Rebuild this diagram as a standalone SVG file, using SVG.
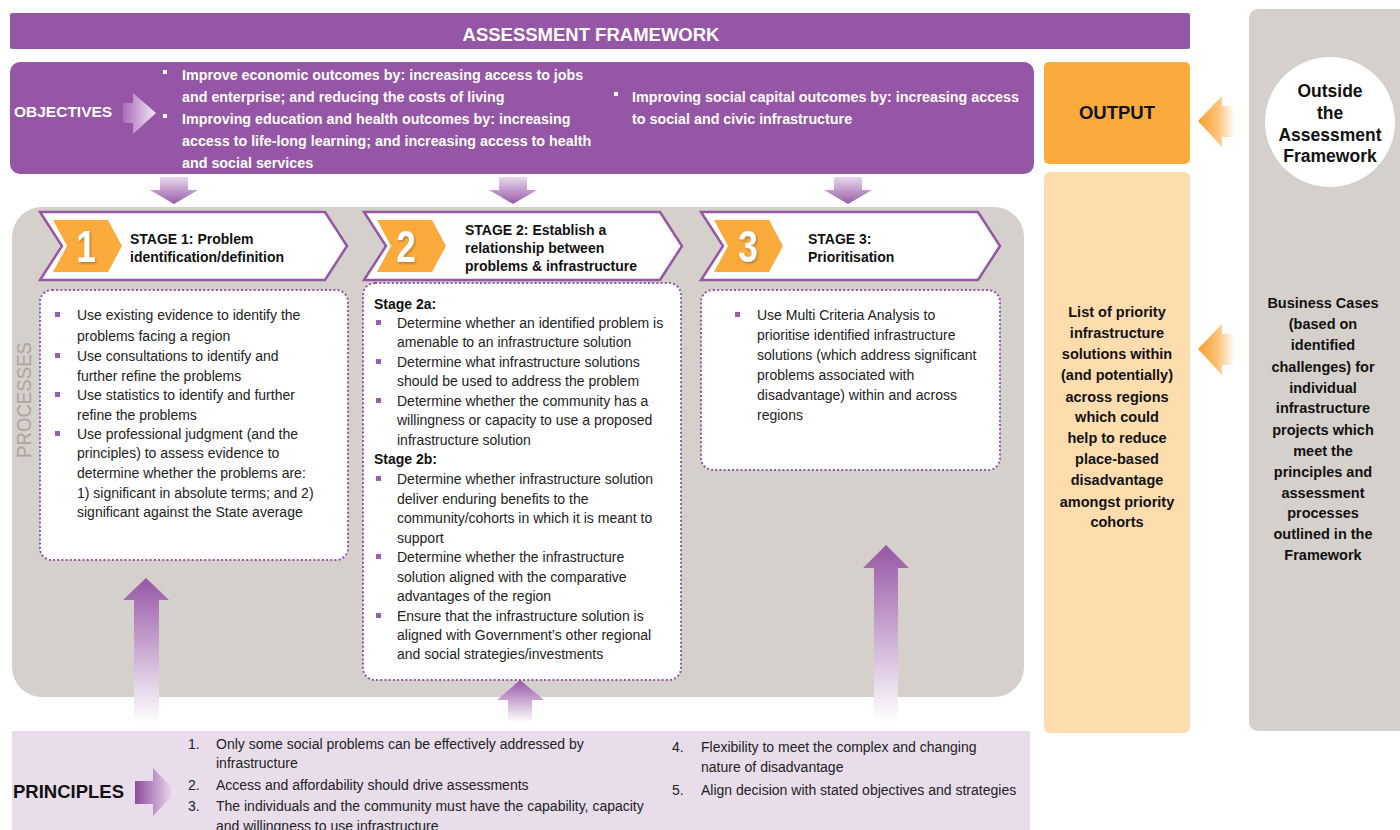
<svg xmlns="http://www.w3.org/2000/svg" width="1400" height="830" viewBox="0 0 1400 830">
<style>
text{font-family:"Liberation Sans",Arial,sans-serif}
.hdr{font-size:18.5px;font-weight:bold;fill:#fff}
.obj{font-size:14.3px;font-weight:bold;fill:#fff}
.stg{font-size:14px;font-weight:bold;fill:#111}
.num{font-size:44px;font-weight:bold;fill:#fff;text-anchor:middle}
.body{font-size:14px;fill:#222}
.bodyb{font-size:14px;font-weight:bold;fill:#111}
.col{font-size:14.5px;font-weight:bold;fill:#111;text-anchor:middle}
.big{font-size:17.5px;font-weight:bold;fill:#111;text-anchor:middle}
.purple{fill:#9556a5}
.grey{fill:#d5d0cc}
.chev{fill:#fff;stroke:#9556a5;stroke-width:2.5;stroke-linejoin:miter}
.orange{fill:#fbab3c}
.box{fill:#fff;stroke:#9556a5;stroke-width:2;stroke-dasharray:2 2.2}
.blt{fill:#9a5eab}
.wblt{fill:#fff}
</style>
<defs>
<linearGradient id="gDown" x1="0" y1="0" x2="0" y2="1">
<stop offset="0" stop-color="#e8d8ec"/><stop offset="1" stop-color="#9a5aaa"/>
</linearGradient>
<linearGradient id="gUp" x1="0" y1="0" x2="0" y2="1">
<stop offset="0" stop-color="#9656a6"/><stop offset="1" stop-color="#ffffff"/>
</linearGradient>
<linearGradient id="gLeft" x1="0" y1="0" x2="1" y2="0">
<stop offset="0" stop-color="#f79e2c"/><stop offset="0.55" stop-color="#fbc47a"/><stop offset="1" stop-color="#ffffff" stop-opacity="0.9"/>
</linearGradient>
<linearGradient id="gObj" x1="0" y1="0" x2="1" y2="0">
<stop offset="0" stop-color="#a96bb8"/><stop offset="1" stop-color="#f3e9f5"/>
</linearGradient>
<linearGradient id="gPrin" x1="0" y1="0" x2="1" y2="0">
<stop offset="0" stop-color="#8f4c9f"/><stop offset="1" stop-color="#f1e7f3"/>
</linearGradient>
<filter id="sh" x="-30%" y="-30%" width="160%" height="160%">
<feDropShadow dx="1.5" dy="1.5" stdDeviation="1" flood-color="#7a5a30" flood-opacity="0.6"/>
</filter>
</defs>

<g id="outside-panel">
<rect class="grey" x="1249" y="9" width="170" height="722" rx="9"/>
<g id="outside-circle">
<circle cx="1330" cy="122" r="65" fill="#fff"/>
<text class="big" x="1330" y="97">Outside</text>
<text class="big" x="1330" y="119">the</text>
<text class="big" x="1330" y="141">Assessment</text>
<text class="big" x="1330" y="162">Framework</text>
</g>
<g id="business-cases">
<text class="col" x="1323" y="308">Business Cases</text>
<text class="col" x="1323" y="329">(based on</text>
<text class="col" x="1323" y="350">identified</text>
<text class="col" x="1323" y="372">challenges) for</text>
<text class="col" x="1323" y="393">individual</text>
<text class="col" x="1323" y="413">infrastructure</text>
<text class="col" x="1323" y="435">projects which</text>
<text class="col" x="1323" y="456">meet the</text>
<text class="col" x="1323" y="477">principles and</text>
<text class="col" x="1323" y="498">assessment</text>
<text class="col" x="1323" y="518">processes</text>
<text class="col" x="1323" y="539">outlined in the</text>
<text class="col" x="1323" y="560">Framework</text>
</g>
</g>

<g id="header">
<rect class="purple" x="10" y="13" width="1180" height="36" rx="2"/>
<text class="hdr" x="591" y="41" text-anchor="middle">ASSESSMENT FRAMEWORK</text>
</g>

<g id="objectives">
<rect class="purple" x="10" y="62" width="1024" height="112" rx="10"/>
<text x="14" y="117" style="font-size:15.5px;font-weight:bold;fill:#fff">OBJECTIVES</text>
<rect class="wblt" x="163" y="70" width="4" height="4"/>
<text class="obj" x="182" y="80">Improve economic outcomes by: increasing access to jobs</text>
<text class="obj" x="182" y="102">and enterprise; and reducing the costs of living</text>
<rect class="wblt" x="163" y="114" width="4" height="4"/>
<text class="obj" x="182" y="124">Improving education and health outcomes by: increasing</text>
<text class="obj" x="182" y="146">access to life-long learning; and increasing access to health</text>
<text class="obj" x="182" y="168">and social services</text>
<rect class="wblt" x="614" y="92" width="4" height="4"/>
<text class="obj" x="632" y="102">Improving social capital outcomes by: increasing access</text>
<text class="obj" x="632" y="124">to social and civic infrastructure</text>
</g>

<g id="output">
<rect class="orange" x="1044" y="62" width="146" height="102" rx="5"/>
<text x="1117" y="119" text-anchor="middle" style="font-size:18.5px;font-weight:bold;fill:#111">OUTPUT</text>
</g>

<g id="output-list">
<rect x="1044" y="172" width="146" height="561" rx="6" fill="#fddcae"/>
<text class="col" x="1117" y="317">List of priority</text>
<text class="col" x="1117" y="338">infrastructure</text>
<text class="col" x="1117" y="359">solutions within</text>
<text class="col" x="1117" y="380">(and potentially)</text>
<text class="col" x="1117" y="402">across regions</text>
<text class="col" x="1117" y="422">which could</text>
<text class="col" x="1117" y="443">help to reduce</text>
<text class="col" x="1117" y="464">place-based</text>
<text class="col" x="1117" y="485">disadvantage</text>
<text class="col" x="1117" y="507">amongst priority</text>
<text class="col" x="1117" y="527">cohorts</text>
</g>

<g id="processes">
<rect class="grey" x="12" y="207" width="1012" height="490" rx="30"/>
<text transform="translate(31,400) rotate(-90)" text-anchor="middle" textLength="116" lengthAdjust="spacingAndGlyphs" style="font-size:21px;fill:#aba49f">PROCESSES</text>
</g>

<g id="principles">
<rect x="12" y="731" width="1018" height="110" fill="#e9ddec"/>
<text x="13" y="798" style="font-size:18.5px;font-weight:bold;fill:#111">PRINCIPLES</text>
<text class="body" x="188" y="749">1.</text>
<text class="body" x="216" y="749">Only some social problems can be effectively addressed by</text>
<text class="body" x="216" y="768">infrastructure</text>
<text class="body" x="188" y="790">2.</text>
<text class="body" x="216" y="790">Access and affordability should drive assessments</text>
<text class="body" x="188" y="811">3.</text>
<text class="body" x="216" y="811">The individuals and the community must have the capability, capacity</text>
<text class="body" x="216" y="831">and willingness to use infrastructure</text>
<text class="body" x="672" y="752">4.</text>
<text class="body" x="701" y="752">Flexibility to meet the complex and changing</text>
<text class="body" x="701" y="772">nature of disadvantage</text>
<text class="body" x="672" y="795">5.</text>
<text class="body" x="701" y="795">Align decision with stated objectives and strategies</text>
</g>

<g id="stage1">
<polygon class="chev" points="40,212 325,212 347,246 325,280 40,280 62,246"/>
<polygon class="orange" points="53,220 108,220 122,246 108,272 53,272 67,246"/>
<text class="num" transform="translate(86,262) scale(0.8,1)" filter="url(#sh)">1</text>
<text class="stg" x="130" y="244">STAGE 1:  Problem</text>
<text class="stg" x="130" y="262">identification/definition</text>
<rect class="box" x="40" y="290" width="308" height="270" rx="12"/>
<rect class="blt" x="55" y="312" width="5" height="5"/>
<text class="body" x="77" y="320">Use existing evidence to identify the</text>
<text class="body" x="77" y="341">problems facing a region</text>
<rect class="blt" x="55" y="353" width="5" height="5"/>
<text class="body" x="77" y="361">Use consultations to identify and</text>
<text class="body" x="77" y="381">further refine the problems</text>
<rect class="blt" x="55" y="392" width="5" height="5"/>
<text class="body" x="77" y="400">Use statistics to identify and further</text>
<text class="body" x="77" y="420">refine the problems</text>
<rect class="blt" x="55" y="431" width="5" height="5"/>
<text class="body" x="77" y="439">Use professional judgment (and the</text>
<text class="body" x="77" y="458">principles) to assess evidence to</text>
<text class="body" x="77" y="478">determine whether the problems are:</text>
<text class="body" x="77" y="498">1) significant in absolute terms; and 2)</text>
<text class="body" x="77" y="517">significant against the State average</text>
</g>

<g id="stage2">
<polygon class="chev" points="364,212 660,212 682,246 660,280 364,280 386,246"/>
<polygon class="orange" points="377,220 432,220 446,246 432,272 377,272 391,246"/>
<text class="num" transform="translate(406,262) scale(0.8,1)" filter="url(#sh)">2</text>
<text class="stg" x="465" y="235">STAGE 2:  Establish a</text>
<text class="stg" x="465" y="253">relationship between</text>
<text class="stg" x="465" y="271">problems &amp; infrastructure</text>
<rect class="box" x="363" y="283" width="318" height="397" rx="12"/>
<text class="bodyb" x="374" y="309">Stage 2a:</text>
<rect class="blt" x="376" y="320" width="5" height="5"/>
<text class="body" x="397" y="328">Determine whether an identified problem is</text>
<text class="body" x="397" y="347">amenable to an infrastructure solution</text>
<rect class="blt" x="376" y="359" width="5" height="5"/>
<text class="body" x="397" y="367">Determine what infrastructure solutions</text>
<text class="body" x="397" y="386">should be used to address the problem</text>
<rect class="blt" x="376" y="398" width="5" height="5"/>
<text class="body" x="397" y="406">Determine whether the community has a</text>
<text class="body" x="397" y="425">willingness or capacity to use a proposed</text>
<text class="body" x="397" y="445">infrastructure solution</text>
<text class="bodyb" x="374" y="464">Stage 2b:</text>
<rect class="blt" x="376" y="476" width="5" height="5"/>
<text class="body" x="397" y="484">Determine whether infrastructure solution</text>
<text class="body" x="397" y="504">deliver enduring benefits to the</text>
<text class="body" x="397" y="523">community/cohorts in which it is meant to</text>
<text class="body" x="397" y="543">support</text>
<rect class="blt" x="376" y="554" width="5" height="5"/>
<text class="body" x="397" y="562">Determine whether the infrastructure</text>
<text class="body" x="397" y="582">solution aligned with the comparative</text>
<text class="body" x="397" y="601">advantages of the region</text>
<rect class="blt" x="376" y="613" width="5" height="5"/>
<text class="body" x="397" y="621">Ensure that the infrastructure solution is</text>
<text class="body" x="397" y="640">aligned with Government’s other regional</text>
<text class="body" x="397" y="659">and social strategies/investments</text>
</g>

<g id="stage3">
<polygon class="chev" points="701,212 978,212 1000,246 978,280 701,280 723,246"/>
<polygon class="orange" points="714,220 769,220 783,246 769,272 714,272 728,246"/>
<text class="num" transform="translate(748,262) scale(0.8,1)" filter="url(#sh)">3</text>
<text class="stg" x="808" y="244">STAGE 3:</text>
<text class="stg" x="808" y="262">Prioritisation</text>
<rect class="box" x="701" y="290" width="299" height="180" rx="12"/>
<rect class="blt" x="735" y="312" width="5" height="5"/>
<text class="body" x="757" y="320">Use Multi Criteria Analysis to</text>
<text class="body" x="757" y="340">prioritise identified infrastructure</text>
<text class="body" x="757" y="360">solutions (which address significant</text>
<text class="body" x="757" y="380">problems associated with</text>
<text class="body" x="757" y="400">disadvantage) within and across</text>
<text class="body" x="757" y="420">regions</text>
</g>

<g id="connectors">
<polygon fill="url(#gObj)" points="123,103 133,103 133,93 156,113 133,134 133,123 123,123"/>
<polygon fill="url(#gDown)" points="160,177 188,177 188,190 198,190 174,204 150,190 160,190"/>
<polygon fill="url(#gDown)" points="499,177 527,177 527,190 537,190 513,204 489,190 499,190"/>
<polygon fill="url(#gDown)" points="834,177 862,177 862,190 872,190 848,204 824,190 834,190"/>
<polygon fill="url(#gUp)" points="146,578 169,600 159,600 159,723 134,723 134,600 123,600"/>
<polygon fill="url(#gUp)" points="520,680 544,700 532,700 532,722 508,722 508,700 497,700"/>
<polygon fill="url(#gUp)" points="886,545 909,568 898,568 898,722 874,722 874,568 863,568"/>
<polygon fill="url(#gPrin)" points="135,781 153,781 153,768 176,792 153,816 153,804 135,804"/>
<polygon fill="url(#gLeft)" points="1198,121 1222,96 1222,106 1235,106 1235,137 1222,137 1222,147"/>
<polygon fill="url(#gLeft)" points="1198,349 1222,324 1222,334 1235,334 1235,365 1222,365 1222,375"/>
</g>
</svg>
